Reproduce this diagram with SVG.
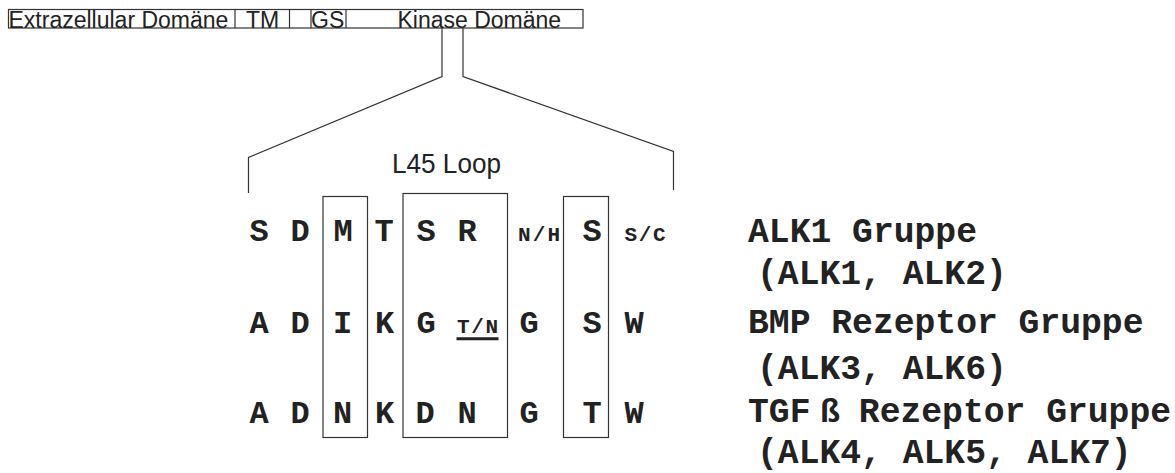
<svg xmlns="http://www.w3.org/2000/svg" width="1175" height="473" viewBox="0 0 1175 473">
  <style>
    .ln { fill: none; stroke: #333; stroke-width: 1.2; }
    .bar { font-family: "Liberation Sans", Arial, sans-serif; font-size: 23px; fill: #222; }
    .loop { font-family: "Liberation Sans", Arial, sans-serif; font-size: 28px; fill: #222; }
    .aa { font-family: "Liberation Mono", "Courier New", monospace; font-weight: bold; font-size: 32px; fill: #222; text-anchor: middle; }
    .sm { font-family: "Liberation Mono", "Courier New", monospace; font-weight: bold; font-size: 21px; fill: #222; text-anchor: middle; }
    .lbl { font-family: "Liberation Mono", "Courier New", monospace; font-weight: bold; font-size: 34.7px; fill: #222; }
    .beta { font-family: "Liberation Sans", Arial, sans-serif; font-weight: bold; font-size: 33px; }
  </style>

  <!-- receptor domain bar -->
  <g id="domain-bar">
    <rect class="ln" x="8.5" y="9.5" width="574.5" height="18.5"/>
    <g id="extracellular">
      <text class="bar" x="8.5" y="28">Extrazellular Domäne</text>
      <line class="ln" x1="235" y1="9.5" x2="235" y2="28"/>
    </g>
    <g id="tm">
      <text class="bar" x="246" y="28">TM</text>
      <line class="ln" x1="289.5" y1="9.5" x2="289.5" y2="28"/>
    </g>
    <g id="gs">
      <line class="ln" x1="311" y1="9.5" x2="311" y2="28"/>
      <text class="bar" x="311" y="28">GS</text>
      <line class="ln" x1="346" y1="9.5" x2="346" y2="28"/>
    </g>
    <g id="kinase">
      <text class="bar" x="397.5" y="28">Kinase Domäne</text>
    </g>
  </g>

  <!-- zoom-in bracket from the kinase domain -->
  <g id="connectors">
    <polyline class="ln" points="442,28 442,76.5 248.5,157.5 248.5,193"/>
    <polyline class="ln" points="463,28 463,76.5 673.5,151.5 673.5,190"/>
  </g>

  <g id="l45-label">
    <text class="loop" x="392" y="172.5" textLength="109" lengthAdjust="spacingAndGlyphs">L45 Loop</text>
  </g>

  <!-- conserved positions -->
  <g id="boxes">
    <rect class="ln" x="323" y="196.5" width="44.5" height="241"/>
    <rect class="ln" x="403" y="193.5" width="104.5" height="244"/>
    <rect class="ln" x="563.5" y="196.5" width="45" height="241"/>
  </g>

  <!-- ALK1 group sequence -->
  <g id="row-alk1">
    <text class="aa" x="259" y="241">S</text>
    <text class="aa" x="300" y="241">D</text>
    <text class="aa" x="343" y="241">M</text>
    <text class="aa" x="384" y="241">T</text>
    <text class="aa" x="426" y="241">S</text>
    <text class="aa" x="467" y="241">R</text>
    <text class="sm" x="539" y="241" textLength="42" lengthAdjust="spacing">N/H</text>
    <text class="aa" x="592" y="241">S</text>
    <text class="sm" x="645" y="241" textLength="41" lengthAdjust="spacing">S/C</text>
  </g>

  <!-- BMP receptor group sequence -->
  <g id="row-bmp">
    <text class="aa" x="259" y="332.5">A</text>
    <text class="aa" x="300" y="332.5">D</text>
    <text class="aa" x="342.5" y="332.5">I</text>
    <text class="aa" x="384.5" y="332.5">K</text>
    <text class="aa" x="426" y="332.5">G</text>
    <text class="sm" x="477.5" y="333" textLength="41" lengthAdjust="spacing">T/N</text>
    <line x1="456.5" y1="338.8" x2="498.5" y2="338.8" stroke="#222" stroke-width="3"/>
    <text class="aa" x="529" y="332.5">G</text>
    <text class="aa" x="592" y="332.5">S</text>
    <text class="aa" x="634" y="332.5">W</text>
  </g>

  <!-- TGF-beta receptor group sequence -->
  <g id="row-tgfb">
    <text class="aa" x="259" y="422.5">A</text>
    <text class="aa" x="300" y="422.5">D</text>
    <text class="aa" x="342.5" y="422.5">N</text>
    <text class="aa" x="384.5" y="422.5">K</text>
    <text class="aa" x="425" y="422.5">D</text>
    <text class="aa" x="467" y="422.5">N</text>
    <text class="aa" x="529" y="422.5">G</text>
    <text class="aa" x="592" y="422.5">T</text>
    <text class="aa" x="634" y="422.5">W</text>
  </g>

  <!-- group names -->
  <g id="label-alk1">
    <text class="lbl" x="748" y="241.5">ALK1 Gruppe</text>
    <text class="lbl" x="757" y="284">(ALK1, ALK2)</text>
  </g>
  <g id="label-bmp">
    <text class="lbl" x="748" y="333">BMP Rezeptor Gruppe</text>
    <text class="lbl" x="757" y="379">(ALK3, ALK6)</text>
  </g>
  <g id="label-tgfb">
    <text class="lbl" x="748" y="421.5">TGF<tspan class="beta" x="820">ß</tspan><tspan x="838"> Rezeptor Gruppe</tspan></text>
    <text class="lbl" x="757" y="463">(ALK4, ALK5, ALK7)</text>
  </g>
</svg>
